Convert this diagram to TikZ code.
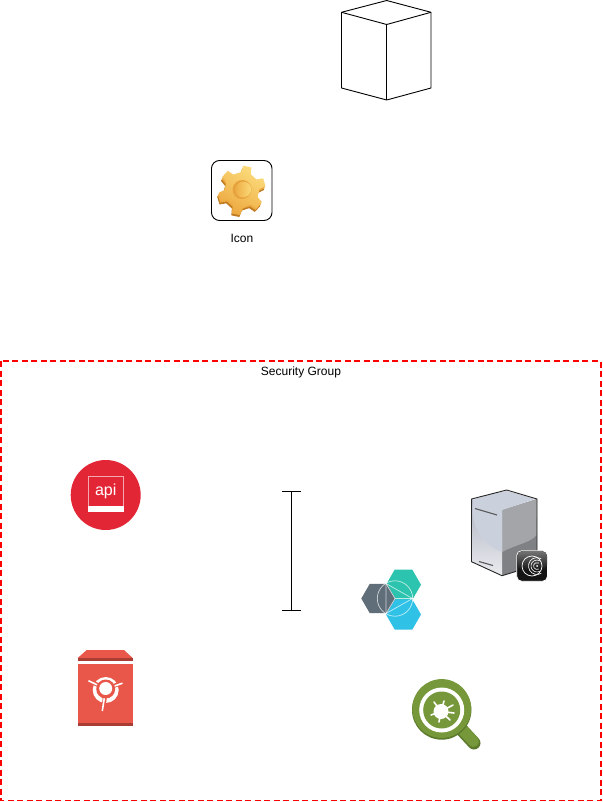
\documentclass[tikz,border=0pt]{standalone}
\usepackage{fontspec}
\setmainfont{Liberation Sans}
\tikzset{
  wire/.style={draw=black,line width=0.9pt,line join=round},
  lbl/.style={font=\fontsize{12}{14}\selectfont,text=black,inner sep=0pt}
}
\definecolor{apired}{HTML}{E32636}
\definecolor{safered}{HTML}{E8574A}
\definecolor{safedark}{HTML}{A93D33}
\definecolor{hexgreen}{HTML}{2CC4AE}
\definecolor{hexblue}{HTML}{30C2E6}
\definecolor{hexgray}{HTML}{5F6E78}
\definecolor{bugout}{HTML}{76983A}
\definecolor{bugdark}{HTML}{5C7A2C}
\definecolor{gearA}{HTML}{FCDC7C}
\definecolor{gearB}{HTML}{EDAA42}
\definecolor{gearC}{HTML}{C07A20}
\definecolor{srvA}{HTML}{CBD0DD}
\definecolor{srvB}{HTML}{AEB2C0}
\definecolor{srvC}{HTML}{A3A5A8}
\definecolor{srvD}{HTML}{7F8185}
\newcommand{\gearpath}{(-17:22) \foreach \a in {0,60,...,300} { -- (\a-17:22) -- (\a-10:30) -- (\a+10:30) -- (\a+17:22) } -- cycle}
\newcommand{\hexa}[4]{\fill[#4] (#1-#3,#2) -- (#1-#3/2,#2-#3*0.866) -- (#1+#3/2,#2-#3*0.866) -- (#1+#3,#2) -- (#1+#3/2,#2+#3*0.866) -- (#1-#3/2,#2+#3*0.866) -- cycle;}
\begin{document}
\begin{tikzpicture}[x=1pt,y=-1pt]
\useasboundingbox (0,0) rectangle (602,802);
\fill[white] (0,0) rectangle (602,802);
% cube
\draw[wire] (341.5,12.3) -- (386.7,0.5) -- (431,12.3) -- (431,88) -- (386.7,100) -- (341.5,88) -- cycle;
\draw[wire] (341.5,12.3) -- (386.7,24.5) -- (431,12.3);
\draw[wire] (386.7,24.5) -- (386.7,100);
% icon box
\draw[wire,rounded corners=8pt] (211.5,160.5) rectangle (272,220.5);
\begin{scope}[shift={(242,189.5)},cm={0.78,0.14,-0.12,0.78,(0,0)},rotate=8]
  \fill[gearC,shift={(-3,4)}] \gearpath;
  \fill[gearB,shift={(-1.5,2)}] \gearpath;
  \shade[top color=gearA,bottom color=gearB,shading angle=-30] \gearpath;
  \fill[gearB!85!gearC] (0,0) circle (12);
  \shade[left color=gearB,right color=gearA] (1.5,0.5) circle (10);
\end{scope}
\node[lbl] (iconlabel) at (242,238) {Icon};
% security group
\draw[red,line width=1.4pt,dash pattern=on 6pt off 3.5pt] (0.8,361) rectangle (600.8,800.5);
\node[lbl] (sglabel) at (301,372.3) {Security Group};
% api
\fill[apired] (105.7,495) circle (35);
\fill[white] (87.7,476) rectangle (124,512.3);
\fill[apired!40!white] (87.7,476) rectangle (124,506);
\fill[apired] (88.6,476.9) rectangle (123.1,506);
\node[font=\fontsize{16}{18}\selectfont,text=white,inner sep=0pt] (apilabel) at (105.7,491.5) {api};
% safe
\fill[safered] (86.7,650) -- (124,650) -- (132.7,658) -- (77.7,658) -- cycle;
\fill[safedark] (77.7,658) rectangle (132.7,660.7);
\fill[safered] (77.5,664) rectangle (132.5,723);
\fill[safedark] (77.5,722.5) rectangle (132.5,725.7);
\fill[white] (105.7,690) circle (13);
\draw[safered,line width=4pt] (105.7,689) -- (103,713) (105.7,689) -- (87,679.5) (105.7,689) -- (124,682);
\draw[white,line width=1.6pt] (105.7,689) -- (102.3,711) (105.7,689) -- (88.5,680.7) (105.7,689) -- (122.5,683.2);
\fill[safered] (105.7,689) circle (9.5);
\fill[white] (105.7,688.5) circle (6.5);
% bracket
\coordinate (bt) at (291.5,491);
\coordinate (bb) at (291.5,610);
\draw[black,line width=0.8pt] (bt) -- (bb);
\draw[black,line width=0.8pt] ([xshift=-9.5pt]bt) -- ([xshift=9.5pt]bt);
\draw[black,line width=0.8pt] ([xshift=-9.5pt]bb) -- ([xshift=9.5pt]bb);
% hexagons
\hexa{403.5}{584.7}{17.5}{hexgreen}
\hexa{403.5}{614.5}{17.5}{hexblue}
\hexa{378.3}{598.5}{17}{hexgray}
\draw[white,opacity=0.7,line width=0.7pt] (395,598.5) circle (17.7);
\draw[white,opacity=0.7,line width=0.7pt] (386,583.5) -- (386,613.5) -- (412.5,598.5) -- cycle;
\draw[white,opacity=0.7,line width=0.7pt] (386,583.5) -- (395,598.5) -- (386,613.5) (395,598.5) -- (412.5,598.5);
% server
\fill[srvD] (502,510) -- (537,499) -- (537,565) -- (502,575.7) -- cycle;
\fill[srvC] (502,510) -- (537,499) -- (536.5,535) .. controls (532,542) and (515,545) .. (502,552) -- cycle;
\shade[top color=srvB,bottom color=white!75!srvB] (471.5,499) -- (502,510) -- (502,575.7) -- (471.5,561.7) -- cycle;
\fill[srvA] (473,500) .. controls (480,496) and (495,493) .. (506.7,491) .. controls (515,493) and (525,496) .. (535,499) -- (502,510) -- (502,552) .. controls (485,546) and (473,530) .. (472.5,510) -- cycle;
\draw[black!85,line width=0.9pt,line join=round] (506.7,490) -- (537,499) -- (537,565) -- (502,575.7) -- (471.5,561.7) -- (471.5,499) -- cycle;
\draw[black!65,line width=1.1pt] (475,508.5) -- (497,515);
\draw[black!65,line width=1.1pt] (479,561.5) -- (493,565.5);
\draw[white,line width=0.8pt,rounded corners=5pt,fill=black!92] (516.7,550.7) rectangle (547.5,581.3);
\shade[top color=black!55,bottom color=black!92,rounded corners=5pt] (517.2,551.2) rectangle (547,570);
\draw[white,line width=0.7pt] (532,566) circle (10);
\coordinate (wave) at (537,566);
\draw[white,line width=0.6pt] (wave) ++(60:8.5) arc (60:300:8.5);
\draw[white,line width=0.6pt] (wave) ++(60:6) arc (60:300:6);
\draw[white,line width=0.6pt] (wave) ++(60:3.5) arc (60:300:3.5);
\fill[white] (wave) circle (1);
% magnifier
\draw[bugdark,line width=13pt,line cap=round] (461,729) -- (474,743);
\draw[bugout,line width=11pt,line cap=round] (460,727) -- (473.5,741.5);
\fill[bugdark] (441.7,710) circle (29.7);
\fill[bugout] (441.7,708.5) circle (29.4);
\fill[white] (441.7,710) circle (22.5);
\fill[bugout] (441.7,710) circle (18.5);
\fill[white] (441,711.5) circle (7.5);
\draw[white,line width=1.6pt,line cap=round]
  (441,711.5) -- (434,702) (441,711.5) -- (444,701) (441,711.5) -- (453,705)
  (441,711.5) -- (454,713) (441,711.5) -- (450,720) (441,711.5) -- (439,722)
  (441,711.5) -- (431,715);
\end{tikzpicture}
\end{document}
